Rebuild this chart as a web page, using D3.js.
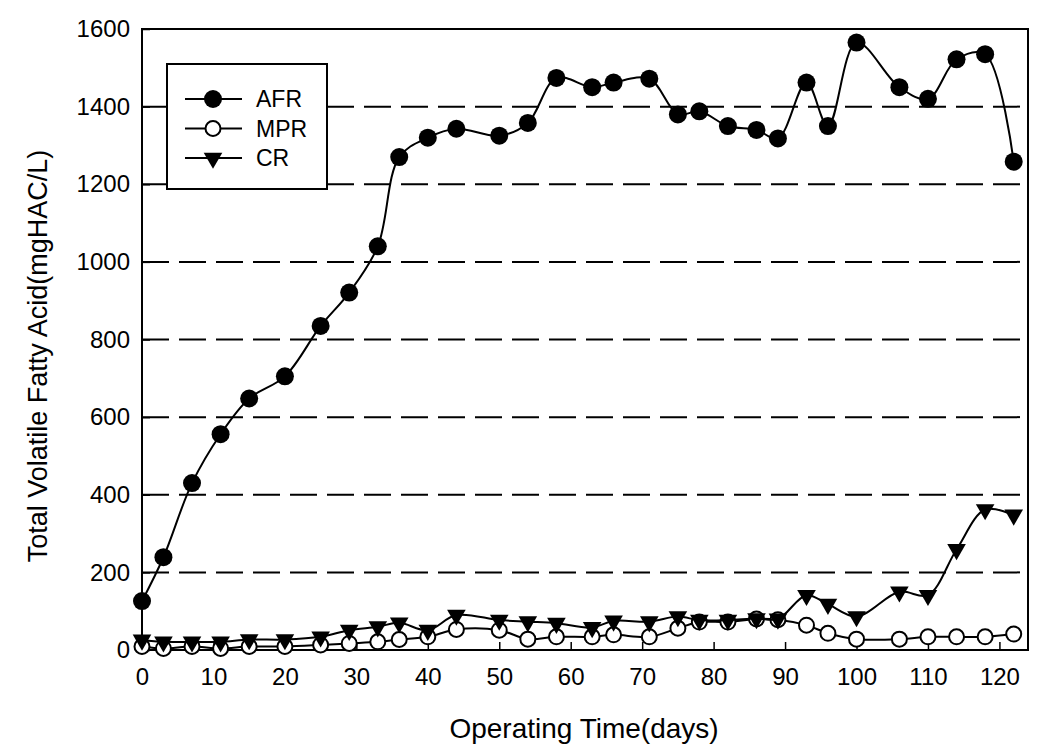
<!DOCTYPE html>
<html>
<head>
<meta charset="utf-8">
<script src="https://cdn.jsdelivr.net/npm/d3@7"></script>
<style>
  body { margin: 0; background: #fff; }
  text { font-family: "Liberation Sans", Arial, sans-serif; fill: #000; }
</style>
</head>
<body>
<svg id="chart" width="1037" height="751"></svg>
<script>
const days = [0, 3, 7, 11, 15, 20, 25, 29, 33, 36, 40, 44, 50, 54, 58, 63, 66, 71, 75, 78, 82, 86, 89, 93, 96, 100, 106, 110, 114, 118, 122];
const afr = [126, 239, 430, 556, 648, 705, 835, 921, 1040, 1270, 1320, 1343, 1325, 1358, 1474, 1450, 1462, 1472, 1380, 1388, 1350, 1340, 1318, 1462, 1350, 1565, 1450, 1420, 1522, 1535, 1258];
const mpr = [9, 4, 9, 4, 9, 9, 13, 17, 21, 27, 34, 53, 51, 28, 34, 34, 39, 34, 56, 72, 72, 80, 78, 64, 43, 28, 28, 34, 34, 34, 41];
const cr = [26, 21, 21, 21, 27, 27, 34, 51, 60, 70, 51, 90, 77, 73, 69, 58, 75, 73, 86, 77, 77, 81, 80, 141, 118, 86, 150, 141, 259, 362, 348];
const seriesNames = ["AFR", "MPR", "CR"];
const xTicks = [0, 10, 20, 30, 40, 50, 60, 70, 80, 90, 100, 110, 120];
const yTicks = [0, 200, 400, 600, 800, 1000, 1200, 1400, 1600];

const svg = d3.select("#chart");
const plotL = 142, plotR = 1028, plotT = 29, plotB = 650;

const x = d3.scaleLinear().domain([0, 124]).range([plotL, plotR]);
const y = d3.scaleLinear().domain([0, 1600]).range([plotB, plotT]);

// dashed grid lines
svg.append("g")
  .selectAll("line")
  .data(yTicks.filter(d => d > 0 && d < 1600))
  .join("line")
  .attr("x1", plotL).attr("x2", plotR)
  .attr("y1", d => y(d)).attr("y2", d => y(d))
  .attr("stroke", "#000")
  .attr("stroke-width", 2)
  .attr("stroke-dasharray", "27,10");

// axes, ticks pointing inward
const xAxis = svg.append("g")
  .attr("transform", `translate(0,${plotB})`)
  .call(d3.axisBottom(x).tickValues(xTicks).tickFormat(d3.format("d"))
    .tickSizeInner(-8).tickSizeOuter(0).tickPadding(18));
const yAxis = svg.append("g")
  .attr("transform", `translate(${plotL},0)`)
  .call(d3.axisLeft(y).tickValues(yTicks).tickFormat(d3.format("d"))
    .tickSizeInner(-8).tickSizeOuter(0).tickPadding(12));

[xAxis, yAxis].forEach(g => {
  g.select(".domain").remove();
  g.selectAll("line").attr("stroke", "#000").attr("stroke-width", 1.5);
  g.selectAll("text").style("font-size", "24px").attr("fill", "#000");
});

// frame
svg.append("rect")
  .attr("x", plotL).attr("y", plotT)
  .attr("width", plotR - plotL).attr("height", plotB - plotT)
  .attr("fill", "none")
  .attr("stroke", "#000")
  .attr("stroke-width", 2);

const line = vals => d3.line()
  .x((d, i) => x(days[i]))
  .y(d => y(d))
  .curve(d3.curveCatmullRom.alpha(0.5))(vals);

const tri = d3.symbol().type(d3.symbolTriangle).size(150);

function drawMarker(g, name, cx, cy) {
  if (name === "AFR") {
    g.append("circle").attr("cx", cx).attr("cy", cy).attr("r", 9).attr("fill", "#000");
  } else if (name === "MPR") {
    g.append("circle").attr("cx", cx).attr("cy", cy).attr("r", 7.5)
      .attr("fill", "#fff").attr("stroke", "#000").attr("stroke-width", 2);
  } else {
    g.append("path").attr("d", tri)
      .attr("transform", `translate(${cx},${cy}) rotate(180)`)
      .attr("fill", "#000");
  }
}

const seriesVals = { AFR: afr, MPR: mpr, CR: cr };

seriesNames.forEach(name => {
  const g = svg.append("g");
  g.append("path")
    .attr("d", line(seriesVals[name]))
    .attr("fill", "none")
    .attr("stroke", "#000")
    .attr("stroke-width", 2);
  seriesVals[name].forEach((v, i) => drawMarker(g, name, x(days[i]), y(v)));
});

// legend
const legend = svg.append("g");
legend.append("rect")
  .attr("x", 167).attr("y", 64)
  .attr("width", 160).attr("height", 125)
  .attr("fill", "#fff")
  .attr("stroke", "#000")
  .attr("stroke-width", 2);
seriesNames.forEach((name, i) => {
  const ly = 99 + i * 29.5;
  legend.append("line")
    .attr("x1", 185).attr("x2", 242)
    .attr("y1", ly).attr("y2", ly)
    .attr("stroke", "#000").attr("stroke-width", 2);
  drawMarker(legend, name, 213, ly);
  legend.append("text")
    .attr("x", 256).attr("y", ly + 8)
    .style("font-size", "23px")
    .text(name);
});

// axis titles
svg.append("text")
  .attr("x", 584).attr("y", 738)
  .attr("text-anchor", "middle")
  .style("font-size", "28px")
  .text("Operating Time(days)");

svg.append("text")
  .attr("transform", "translate(47,356) rotate(-90)")
  .attr("text-anchor", "middle")
  .style("font-size", "27px")
  .text("Total Volatile Fatty Acid(mgHAC/L)");
</script>
</body>
</html>
